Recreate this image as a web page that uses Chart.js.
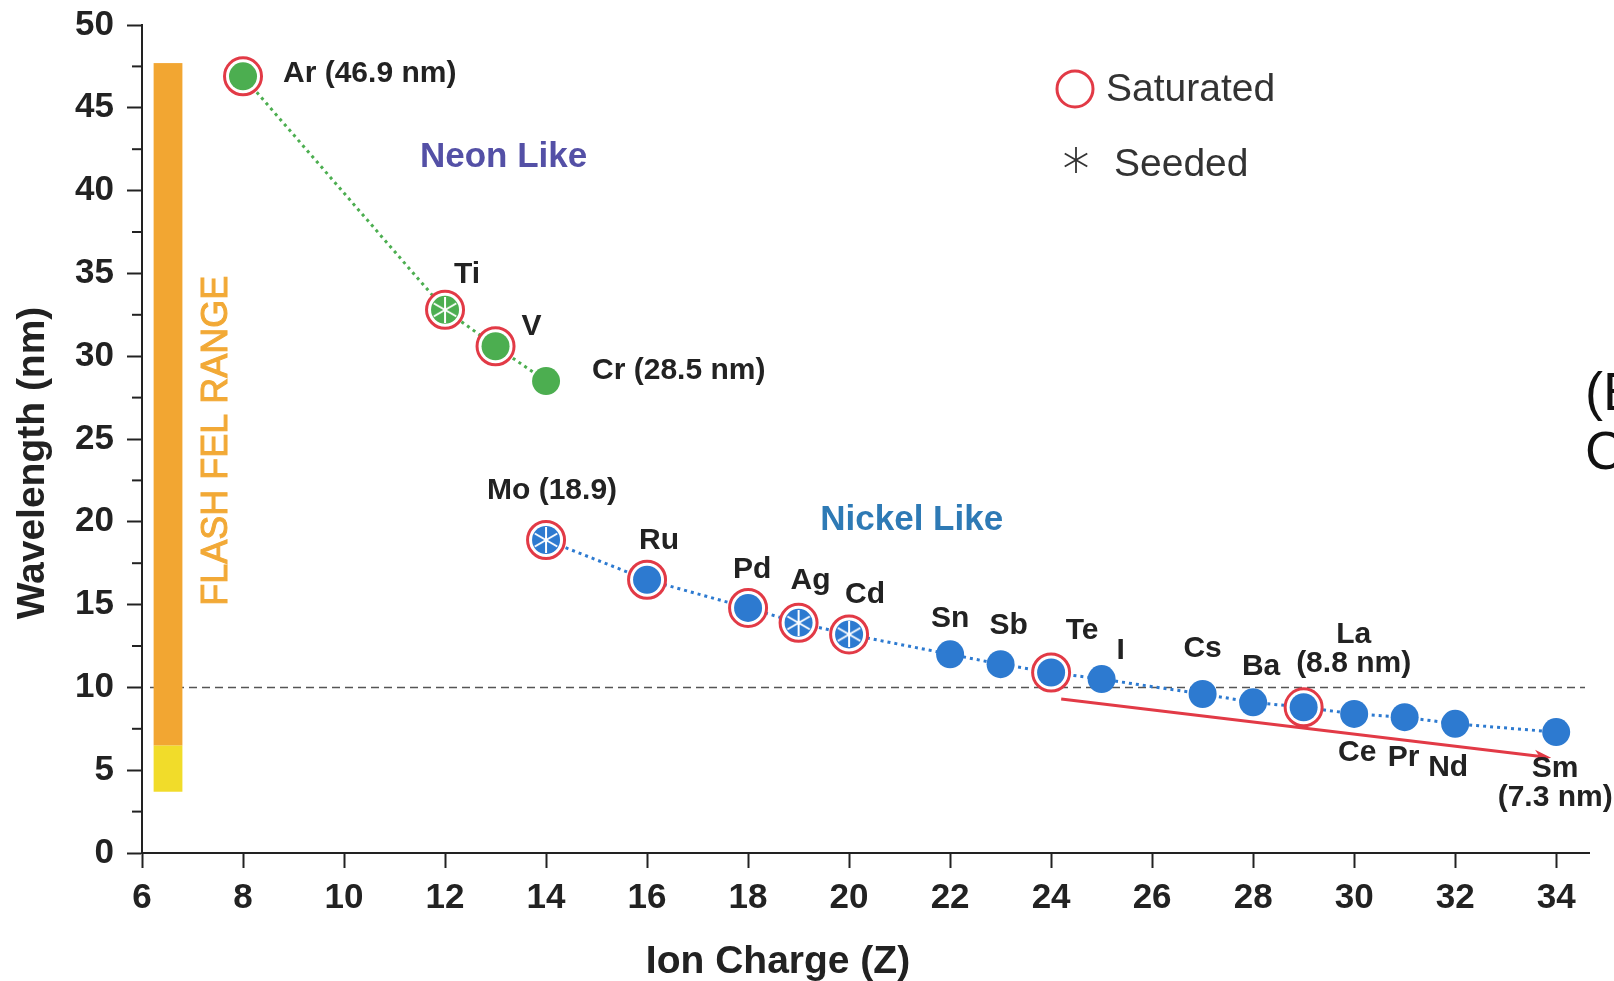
<!DOCTYPE html>
<html lang="en">
<head>
<meta charset="UTF-8">
<title>X-ray laser wavelengths vs ion charge</title>
<style>
  html, body { margin: 0; padding: 0; background: #fff; }
</style>
</head>
<body>
<canvas id="myChart" width="1614" height="981"></canvas>

<script src="https://cdn.jsdelivr.net/npm/chart.js@4.4.1/dist/chart.umd.min.js"></script>
<script>
// neon-like ions
var neonNames = ['Ar', 'Ti', 'V', 'Cr'];
var neonCharge = [8, 12, 13, 14];
var neonWavelength = [46.9, 32.8, 30.6, 28.5];

// nickel-like ions
var nickelNames = ['Mo', 'Ru', 'Pd', 'Ag', 'Cd', 'Sn', 'Sb', 'Te', 'I', 'Cs', 'Ba', 'La', 'Ce', 'Pr', 'Nd', 'Sm'];
var nickelCharge = [14, 16, 18, 19, 20, 22, 23, 24, 25, 27, 28, 29, 30, 31, 32, 34];
var nickelWavelength = [18.9, 16.5, 14.8, 13.9, 13.2, 12.0, 11.4, 10.9, 10.5, 9.6, 9.1, 8.8, 8.4, 8.2, 7.8, 7.3];

var saturatedIons = ['Ar', 'Ti', 'V', 'Mo', 'Ru', 'Pd', 'Ag', 'Cd', 'Te', 'La'];
var seededIons = ['Ti', 'Mo', 'Ag', 'Cd'];

// FLASH FEL range in nm: bottom of yellow, yellow/orange edge, top
var flashRange = [3.7, 6.5, 47.7];
var flashCharge = [6.23, 6.8];
var refWavelength = 10;
var arrowFrom = [24.2, 9.3];
var arrowTo = [33.9, 5.75];

var xTicks = [6, 8, 10, 12, 14, 16, 18, 20, 22, 24, 26, 28, 30, 32, 34];
var yTicks = [0, 5, 10, 15, 20, 25, 30, 35, 40, 45, 50];
var yMinorTicks = [2.5, 7.5, 12.5, 17.5, 22.5, 27.5, 32.5, 37.5, 42.5, 47.5];
var xMin = 6, xMax = 34.65;
var yMin = 0, yMax = 50;

// label text where it differs from the element name
var pointText = {
    Ar: ['Ar (46.9 nm)'], Cr: ['Cr (28.5 nm)'], Mo: ['Mo (18.9)'],
    La: ['La', '(8.8 nm)'], Sm: ['Sm', '(7.3 nm)']
};
// where each label sits, pixels from its point
var labelOffset = {
    Ar: [40, -3, 'left'], Ti: [22, -35], V: [36, -20], Cr: [46, -10, 'left'],
    Mo: [6, -49], Ru: [12, -39], Pd: [4, -38], Ag: [12, -42], Cd: [16, -40],
    Sn: [0, -36], Sb: [8, -38], Te: [31, -42], I: [19, -28], Cs: [0, -45],
    Ba: [8, -36], La: [50, -58], Ce: [3, 39], Pr: [-1, 41], Nd: [-7, 44], Sm: [-1, 51]
};

var FONT = "'Liberation Sans', Arial, Helvetica, sans-serif";
var GREEN = '#4cae50';
var BLUE = '#2d7ad0';
var RED = '#e23a46';
var INK = '#222';

var allNames = neonNames.concat(nickelNames);
var allCharge = neonCharge.concat(nickelCharge);
var allWave = neonWavelength.concat(nickelWavelength);

function toPoints(xs, ys) {
    return xs.map(function (x, i) { return { x: x, y: ys[i] }; });
}
function pick(names) {
    var out = [];
    for (var i = 0; i < allNames.length; i++) {
        if (names.indexOf(allNames[i]) >= 0) out.push({ x: allCharge[i], y: allWave[i] });
    }
    return out;
}

function asterisk(size, color, width) {
    var c = document.createElement('canvas');
    c.width = size;
    c.height = size;
    var g = c.getContext('2d');
    var r = size / 2;
    g.strokeStyle = color;
    g.lineWidth = width;
    [90, 30, 150].forEach(function (deg) {
        var a = deg * Math.PI / 180;
        g.beginPath();
        g.moveTo(r + Math.cos(a) * r, r - Math.sin(a) * r);
        g.lineTo(r - Math.cos(a) * r, r + Math.sin(a) * r);
        g.stroke();
    });
    return c;
}

var whiteStar = asterisk(26, '#ffffff', 2);
var legendStar = asterisk(26, '#333333', 1.8);

var decor = {
    id: 'decor',
    beforeDatasetsDraw: function (chart) {
        var ctx = chart.ctx, xs = chart.scales.x, ys = chart.scales.y, area = chart.chartArea;
        ctx.save();

        // 10 nm reference line
        var yRef = ys.getPixelForValue(refWavelength);
        ctx.strokeStyle = '#555';
        ctx.lineWidth = 1.5;
        ctx.setLineDash([8, 5]);
        ctx.beginPath();
        ctx.moveTo(area.left + 8, yRef);
        ctx.lineTo(area.right - 4, yRef);
        ctx.stroke();
        ctx.setLineDash([]);

        // FLASH bar
        var bx0 = xs.getPixelForValue(flashCharge[0]);
        var bx1 = xs.getPixelForValue(flashCharge[1]);
        var yb = ys.getPixelForValue(flashRange[0]);
        var ym = ys.getPixelForValue(flashRange[1]);
        var yt = ys.getPixelForValue(flashRange[2]);
        ctx.fillStyle = '#f1dc2a';
        ctx.fillRect(bx0, ym, bx1 - bx0, yb - ym);
        ctx.fillStyle = '#f2a632';
        ctx.fillRect(bx0, yt, bx1 - bx0, ym - yt);

        ctx.save();
        ctx.translate(xs.getPixelForValue(7.48), ys.getPixelForValue(24.9));
        ctx.rotate(-Math.PI / 2);
        ctx.fillStyle = '#f2a936';
        ctx.strokeStyle = '#f2a936';
        ctx.lineWidth = 1;
        ctx.font = '36px ' + FONT;
        ctx.textAlign = 'center';
        ctx.textBaseline = 'middle';
        ctx.fillText('FLASH FEL RANGE', 0, 0);
        ctx.strokeText('FLASH FEL RANGE', 0, 0);
        ctx.restore();

        // series names
        ctx.font = 'bold 35px ' + FONT;
        ctx.textAlign = 'center';
        ctx.textBaseline = 'middle';
        ctx.fillStyle = '#5450a6';
        ctx.fillText('Neon Like', xs.getPixelForValue(13.16), ys.getPixelForValue(42.0));
        ctx.fillStyle = '#2e7ab5';
        ctx.fillText('Nickel Like', xs.getPixelForValue(21.24), ys.getPixelForValue(20.1));

        // trend arrow
        var ax0 = xs.getPixelForValue(arrowFrom[0]), ay0 = ys.getPixelForValue(arrowFrom[1]);
        var ax1 = xs.getPixelForValue(arrowTo[0]), ay1 = ys.getPixelForValue(arrowTo[1]);
        var ang = Math.atan2(ay1 - ay0, ax1 - ax0);
        ctx.strokeStyle = RED;
        ctx.fillStyle = RED;
        ctx.lineWidth = 3;
        ctx.beginPath();
        ctx.moveTo(ax0, ay0);
        ctx.lineTo(ax1 - Math.cos(ang) * 6, ay1 - Math.sin(ang) * 6);
        ctx.stroke();
        ctx.beginPath();
        ctx.moveTo(ax1, ay1);
        ctx.lineTo(ax1 - Math.cos(ang - 0.35) * 18, ay1 - Math.sin(ang - 0.35) * 18);
        ctx.lineTo(ax1 - Math.cos(ang) * 12, ay1 - Math.sin(ang) * 12);
        ctx.lineTo(ax1 - Math.cos(ang + 0.35) * 18, ay1 - Math.sin(ang + 0.35) * 18);
        ctx.closePath();
        ctx.fill();

        ctx.restore();
    },
    afterDraw: function (chart) {
        var ctx = chart.ctx, xs = chart.scales.x, ys = chart.scales.y, area = chart.chartArea;
        ctx.save();

        // minor y ticks
        ctx.strokeStyle = INK;
        ctx.lineWidth = 2;
        yMinorTicks.forEach(function (v) {
            var py = ys.getPixelForValue(v);
            ctx.beginPath();
            ctx.moveTo(area.left - 10, py);
            ctx.lineTo(area.left, py);
            ctx.stroke();
        });

        // axis titles (off-centre in the original)
        ctx.fillStyle = INK;
        ctx.font = 'bold 39px ' + FONT;
        ctx.textAlign = 'center';
        ctx.textBaseline = 'middle';
        ctx.fillText('Ion Charge (Z)', 778, 962);
        ctx.save();
        ctx.translate(33, 463);
        ctx.rotate(-Math.PI / 2);
        ctx.fillText('Wavelength (nm)', 0, 0);
        ctx.restore();

        // element labels
        ctx.font = 'bold 30px ' + FONT;
        for (var i = 0; i < allNames.length; i++) {
            var name = allNames[i];
            var off = labelOffset[name];
            var lines = pointText[name] || [name];
            var px = xs.getPixelForValue(allCharge[i]) + off[0];
            var cy = ys.getPixelForValue(allWave[i]) + off[1];
            ctx.textAlign = off[2] || 'center';
            for (var k = 0; k < lines.length; k++) {
                ctx.fillText(lines[k], px, cy + (k - (lines.length - 1) / 2) * 29);
            }
        }

        // legend
        ctx.strokeStyle = RED;
        ctx.lineWidth = 3;
        ctx.beginPath();
        ctx.arc(1075, 89, 18, 0, Math.PI * 2);
        ctx.stroke();
        ctx.drawImage(legendStar, 1076 - 13, 160 - 13);
        ctx.fillStyle = '#333';
        ctx.font = '39px ' + FONT;
        ctx.textAlign = 'left';
        ctx.fillText('Saturated', 1106, 90);
        ctx.fillText('Seeded', 1114, 165);

        // clipped caption on the right edge
        ctx.fillStyle = '#111';
        ctx.font = '54px ' + FONT;
        ctx.fillText('(E', 1585, 395);
        ctx.fillText('C', 1585, 454);

        ctx.restore();
    }
};

function fixedTicks(list) {
    return function (s) {
        s.ticks = list.map(function (v) { return { value: v }; });
    };
}

function createChart() {
    var ctx = document.getElementById('myChart').getContext('2d');
    new Chart(ctx, {
        type: 'scatter',
        data: {
            datasets: [
                {
                    data: toPoints(neonCharge, neonWavelength),
                    showLine: true, borderColor: GREEN, borderWidth: 3, borderDash: [3, 4],
                    pointRadius: 0, order: 5
                },
                {
                    data: toPoints(nickelCharge, nickelWavelength),
                    showLine: true, borderColor: BLUE, borderWidth: 3, borderDash: [3, 4],
                    pointRadius: 0, order: 5
                },
                {
                    data: pick(saturatedIons),
                    pointRadius: 18.5, pointBorderWidth: 3,
                    pointBorderColor: RED, pointBackgroundColor: '#fff', order: 4
                },
                {
                    data: toPoints(neonCharge, neonWavelength),
                    pointRadius: 14, pointBorderWidth: 0,
                    pointBackgroundColor: GREEN, order: 3
                },
                {
                    data: toPoints(nickelCharge, nickelWavelength),
                    pointRadius: 14, pointBorderWidth: 0,
                    pointBackgroundColor: BLUE, order: 3
                },
                {
                    data: pick(seededIons),
                    pointStyle: whiteStar, pointRadius: 13, order: 1
                }
            ]
        },
        options: {
            responsive: false,
            animation: false,
            events: [],
            layout: { padding: { top: 25, right: 25, left: 0, bottom: 0 } },
            plugins: {
                legend: { display: false },
                tooltip: { enabled: false }
            },
            scales: {
                x: {
                    type: 'linear',
                    min: xMin,
                    max: xMax,
                    afterBuildTicks: fixedTicks(xTicks),
                    afterFit: function (s) {
                        s.height = 128;
                        s.paddingLeft = 0;
                        s.paddingRight = 0;
                    },
                    ticks: {
                        autoSkip: false, maxRotation: 0, padding: 9,
                        color: INK, font: { family: FONT, size: 35, weight: 'bold' }
                    },
                    grid: { drawOnChartArea: false, tickLength: 15, tickWidth: 2, tickColor: INK },
                    border: { color: INK, width: 2 }
                },
                y: {
                    min: yMin,
                    max: yMax,
                    afterBuildTicks: fixedTicks(yTicks),
                    afterFit: function (s) {
                        s.width = 142;
                        s.paddingTop = 0;
                        s.paddingBottom = 0;
                    },
                    ticks: {
                        autoSkip: false, padding: 13,
                        color: INK, font: { family: FONT, size: 35, weight: 'bold' }
                    },
                    grid: { drawOnChartArea: false, tickLength: 15, tickWidth: 2, tickColor: INK },
                    border: { color: INK, width: 2 }
                }
            }
        },
        plugins: [decor]
    });
}

createChart();
</script>
</body>
</html>
